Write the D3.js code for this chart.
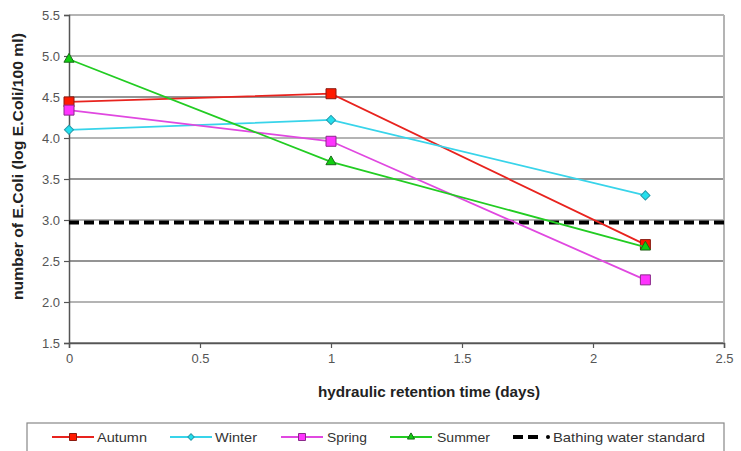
<!DOCTYPE html>
<html>
<head>
<meta charset="utf-8">
<script src="https://cdn.jsdelivr.net/npm/d3@7"></script>
<style>
html,body{margin:0;padding:0;background:#fff;}
svg{display:block;font-family:"Liberation Sans",Arial,sans-serif;}
</style>
</head>
<body>
<svg id="chart" width="741" height="451"></svg>
<script>
const times = [0, 1, 2.2];
const autumn = [4.44, 4.54, 2.70];
const winter = [4.10, 4.22, 3.30];
const spring = [4.34, 3.96, 2.27];
const summer = [4.96, 3.71, 2.67];
const standardX = [0, 2.5];
const standardY = [2.97, 2.97];
const xTicks = [0, 0.5, 1, 1.5, 2, 2.5];
const xTickLabels = ["0", "0.5", "1", "1.5", "2", "2.5"];
const yTicks = [1.5, 2.0, 2.5, 3.0, 3.5, 4.0, 4.5, 5.0, 5.5];
const yTickLabels = ["1.5", "2.0", "2.5", "3.0", "3.5", "4.0", "4.5", "5.0", "5.5"];
const seriesNames = ["Autumn", "Winter", "Spring", "Summer"];
const standardName = "Bathing water standard";

const series = [
  {name: seriesNames[0], values: autumn, line: "#e8231e", fill: "#ff1a00", stroke: "#8a1a10", shape: "square", size: 10},
  {name: seriesNames[1], values: winter, line: "#38d4ea", fill: "#22e0ee", stroke: "#2a9aaa", shape: "diamond", size: 6.5},
  {name: seriesNames[2], values: spring, line: "#e048e0", fill: "#ff33ff", stroke: "#8a2a8a", shape: "square", size: 10},
  {name: seriesNames[3], values: summer, line: "#22cc22", fill: "#10d010", stroke: "#1a6a1a", shape: "triangle", size: 9}
];

const svg = d3.select("#chart");
const x = d3.scaleLinear().domain([0, 2.5]).range([69, 724]);
const y = d3.scaleLinear().domain([1.5, 5.5]).range([343, 15]);

// gridlines
svg.append("g").selectAll("line").data(yTicks).join("line")
  .attr("x1", x(0)).attr("x2", x(2.5))
  .attr("y1", d => y(d)).attr("y2", d => y(d))
  .attr("stroke", d => (Math.round(d * 2) % 2 === 1 && d !== 5.5) ? "#707070" : "#b4b4b4")
  .attr("stroke-width", d => (Math.round(d * 2) % 2 === 1 && d !== 5.5) ? 1.6 : 2);

// right border
svg.append("line").attr("x1", x(2.5)).attr("x2", x(2.5)).attr("y1", y(5.5)).attr("y2", y(1.5))
  .attr("stroke", "#b4b4b4").attr("stroke-width", 2);

// axes
const yAxis = d3.axisLeft(y).tickValues(yTicks).tickFormat((d, i) => yTickLabels[i]).tickSize(5).tickPadding(4);
const gy = svg.append("g").attr("transform", `translate(${x(0)},0)`).call(yAxis);
const xAxis = d3.axisBottom(x).tickValues(xTicks).tickFormat((d, i) => xTickLabels[i]).tickSize(5).tickPadding(6);
const gx = svg.append("g").attr("transform", `translate(0,${y(1.5)})`).call(xAxis);
[gx, gy].forEach(g => {
  g.select(".domain").attr("stroke", "#555").attr("stroke-width", 1.5);
  g.selectAll(".tick line").attr("stroke", "#555").attr("stroke-width", 1.2);
  g.selectAll(".tick text").attr("fill", "#555").attr("font-size", 13);
});

// standard line
const lineGen = d3.line().x(d => x(d[0])).y(d => y(d[1]));
svg.append("path").datum(standardX.map((v, i) => [v, standardY[i]]))
  .attr("d", lineGen).attr("fill", "none").attr("stroke", "#000")
  .attr("stroke-width", 4).attr("stroke-dasharray", "10,5");

function marker(sel, shape, size, fill, stroke) {
  let sym, rot = 0;
  if (shape === "square") sym = d3.symbol(d3.symbolSquare, size * size);
  else if (shape === "diamond") { sym = d3.symbol(d3.symbolSquare, size * size); rot = 45; }
  else sym = d3.symbol(d3.symbolTriangle, size * size * 0.55);
  sel.attr("d", sym).attr("fill", fill).attr("stroke", stroke).attr("stroke-width", 1);
  if (rot) sel.attr("transform", function() { return (this.getAttribute("transform") || "") + ` rotate(${rot})`; });
}

series.forEach(s => {
  const pts = times.map((t, i) => [t, s.values[i]]);
  svg.append("path").datum(pts).attr("d", lineGen)
    .attr("fill", "none").attr("stroke", s.line).attr("stroke-width", 1.8);
  svg.append("g").selectAll("path").data(pts).join("path")
    .attr("transform", d => `translate(${x(d[0])},${y(d[1])})`)
    .call(sel => marker(sel, s.shape, s.size, s.fill, s.stroke));
});

// axis titles
svg.append("text").attr("x", 318).attr("y", 397)
  .attr("font-size", 14).attr("font-weight", "bold").attr("fill", "#222")
  .attr("textLength", 222).attr("lengthAdjust", "spacingAndGlyphs")
  .text("hydraulic retention time (days)");
svg.append("text").attr("transform", "translate(23,300) rotate(-90)")
  .attr("font-size", 14).attr("font-weight", "bold").attr("fill", "#222")
  .attr("textLength", 267).attr("lengthAdjust", "spacingAndGlyphs")
  .text("number of E.Coli (log E.Coli/100 ml)");

// legend
const lg = svg.append("g");
lg.append("rect").attr("x", 27).attr("y", 423).attr("width", 697).attr("height", 30)
  .attr("fill", "#fff").attr("stroke", "#888").attr("stroke-width", 1.2);
const legX = [52, 170, 281, 390];
const legTextX = [97, 215, 327, 437];
const legTextW = [50, 42, 40, 53];
const ly = 437;
series.forEach((s, i) => {
  const x0 = legX[i];
  lg.append("line").attr("x1", x0).attr("x2", x0 + 42).attr("y1", ly).attr("y2", ly)
    .attr("stroke", s.line).attr("stroke-width", 1.8);
  lg.append("path").attr("transform", `translate(${x0 + 21},${ly})`)
    .call(sel => marker(sel, s.shape, s.size * 0.7, s.fill, s.stroke));
  lg.append("text").attr("x", legTextX[i]).attr("y", ly + 5).attr("font-size", 13.5).attr("fill", "#333")
    .attr("textLength", legTextW[i]).attr("lengthAdjust", "spacingAndGlyphs")
    .text(s.name);
});
lg.append("line").attr("x1", 513).attr("x2", 543).attr("y1", ly).attr("y2", ly)
  .attr("stroke", "#000").attr("stroke-width", 4).attr("stroke-dasharray", "10,5");
lg.append("circle").attr("cx", 548).attr("cy", ly).attr("r", 2).attr("fill", "#000");
lg.append("text").attr("x", 553).attr("y", ly + 5).attr("font-size", 13.5).attr("fill", "#333")
  .attr("textLength", 152).attr("lengthAdjust", "spacingAndGlyphs")
  .text(standardName);
</script>
</body>
</html>
